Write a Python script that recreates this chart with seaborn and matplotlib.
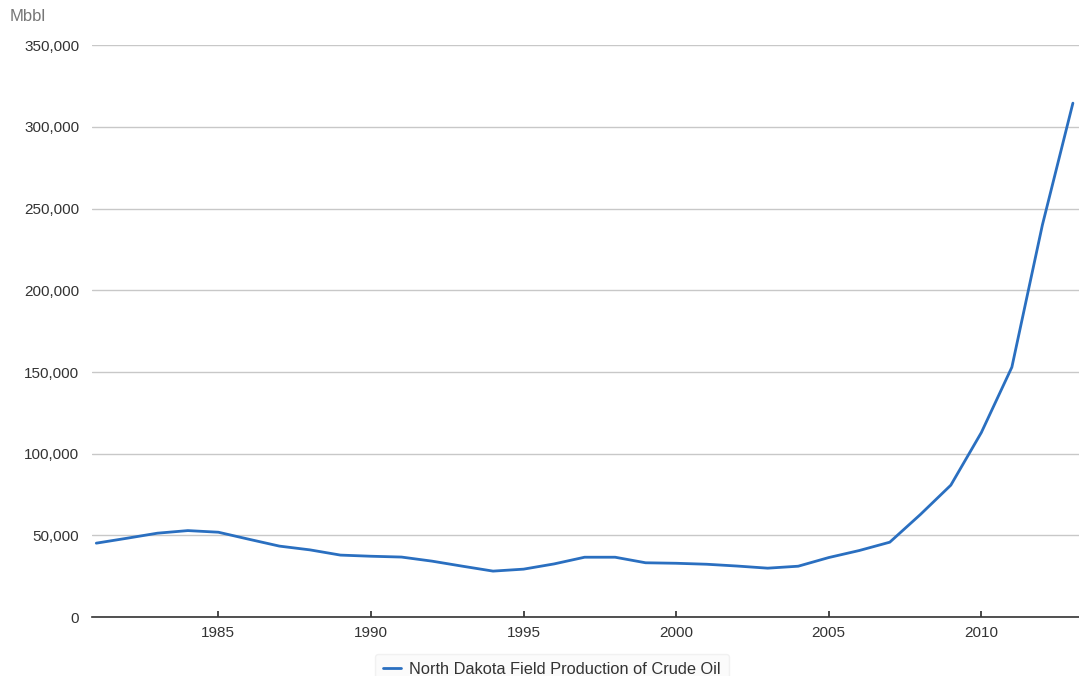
import numpy as np
import pandas as pd
import seaborn as sns
import matplotlib.pyplot as plt
from matplotlib.ticker import FuncFormatter

# North Dakota field production of crude oil, Mbbl
years = list(range(1981, 2014))
production = [45300, 48300, 51400, 53000, 52000, 47700, 43500, 41200,
              38000, 37300, 36800, 34300, 31200, 28200, 29400, 32600,
              36700, 36700, 33300, 33000, 32400, 31300, 30000, 31200,
              36500, 40800, 45900, 62800, 80800, 113000, 153000, 240000,
              314600]
series_name = "North Dakota Field Production of Crude Oil"
y_ticks = [0, 50000, 100000, 150000, 200000, 250000, 300000, 350000]
x_ticks = [1985, 1990, 1995, 2000, 2005, 2010]

df = pd.DataFrame({"year": years, "Mbbl": production})

sns.set_theme(style="white")
plt.rcParams['font.family'] = ['Liberation Sans', 'DejaVu Sans']

fig = plt.figure(figsize=(10.79, 6.76), dpi=100)
ax = fig.add_axes([0.085, 0.087, 0.915, 0.846])

sns.lineplot(data=df, x="year", y="Mbbl", ax=ax, color="#2a6fc0",
             linewidth=2.0, label=series_name)

ax.set_xlim(1980.85, 2013.2)
ax.set_ylim(0, 350000)
ax.set_yticks(y_ticks)
ax.set_xticks(x_ticks)
ax.yaxis.set_major_formatter(FuncFormatter(lambda v, p: f"{int(v):,}"))
ax.grid(axis="y", color="#c8c8c8", linewidth=1.0)
ax.set_axisbelow(True)

for s in ["top", "right", "left"]:
    ax.spines[s].set_visible(False)
ax.spines["bottom"].set_color("#333333")
ax.spines["bottom"].set_linewidth(1.2)

ax.tick_params(axis="x", colors="#333333", labelsize=11, length=4,
               direction="in", bottom=True, pad=6)
ax.tick_params(axis="y", colors="#333333", labelsize=11, length=0, pad=9)
ax.set_xlabel("")
ax.set_ylabel("")

fig.text(0.009, 0.975, "Mbbl", fontsize=12, color="#777777", ha="left", va="center")

leg = ax.legend(loc="upper center", bbox_to_anchor=(0.466, -0.05), frameon=True,
                fontsize=11.8, handlelength=1.1, handletextpad=0.5, borderpad=0.5)
leg.get_frame().set_edgecolor("#eeeeee")
leg.get_frame().set_facecolor("#fafafa")
for t in leg.get_texts():
    t.set_color("#333333")

plt.savefig("out.png", dpi=100)
